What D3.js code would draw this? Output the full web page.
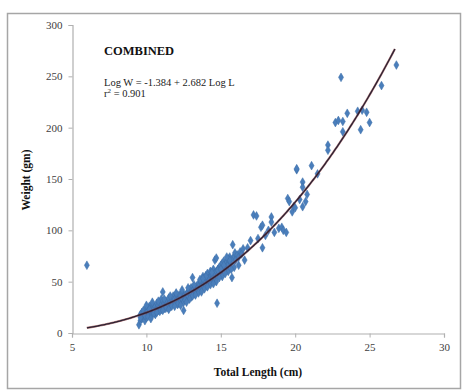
<!DOCTYPE html>
<html><head><meta charset="utf-8">
<script src="https://cdn.jsdelivr.net/npm/d3@7"></script>
<style>body{margin:0;background:#fff}svg{display:block}</style>
</head><body>
<script>
const xTicks = [5, 10, 15, 20, 25, 30];
const yTicks = [0, 50, 100, 150, 200, 250, 300];
const xLabel = "Total Length (cm)";
const yLabel = "Weight (gm)";
const title = "COMBINED";
const eqText = "Log W = -1.384 + 2.682 Log L";
const fitA = -1.384, fitB = 2.682;
const fitRange = [6, 26.7];
const lengths = [9.5,9.6,9.6,9.7,9.7,9.8,9.8,9.9,9.9,10.0,10.0,10.0,10.1,10.1,10.2,10.2,10.3,10.3,10.4,10.4,10.5,10.5,
10.6,10.6,10.7,10.7,10.8,10.8,10.9,10.9,11.0,11.0,11.0,11.1,11.1,11.2,11.2,11.3,11.3,11.4,11.4,11.5,11.5,
11.6,11.6,11.7,11.7,11.8,11.8,11.9,11.9,12.0,12.0,12.0,12.1,12.1,12.2,12.2,12.3,12.3,12.4,12.4,12.5,12.5,12.5,
12.6,12.6,12.7,12.7,12.8,12.8,12.9,12.9,13.0,13.0,13.0,13.1,13.1,13.2,13.2,13.3,13.3,13.4,13.4,13.5,13.5,13.5,
13.6,13.6,13.7,13.7,13.8,13.8,13.8,13.9,13.9,14.0,14.0,14.0,14.1,14.1,14.2,14.2,14.3,14.3,14.4,14.4,14.5,14.5,
14.6,14.6,14.6,14.7,14.7,14.75,14.8,14.8,14.9,14.9,15.0,15.0,15.1,15.1,15.2,15.2,15.3,15.3,15.4,15.4,15.5,15.5,
15.6,15.6,15.7,15.75,15.8,15.8,15.9,15.95,16.0,16.1,16.2,16.3,16.4,16.6,16.8,17.0,17.2,17.4,17.5,17.7,17.8,17.8,18.0,18.2,18.4,18.4,18.6,18.9,19.1,19.2,19.4,
19.5,19.6,19.8,19.9,20.0,20.1,20.1,20.3,20.5,20.5,20.5,20.7,20.8,21.1,21.5,22.2,22.2,22.7,22.9,23.08,23.2,23.2,23.5,24.2,24.5,24.4,24.8,25.0,25.8,26.8,6.0,
10.0,10.2,9.9,10.4,10.8,11.2,11.6,12.0,12.4,12.8,13.2,13.6,14.0,14.4,14.8,15.2,15.6,13.0,12.2,11.4,14.2,15.0,10.6,13.8,
9.6,10.1,10.5,10.9,11.3,11.7,12.1,12.6,13.1,13.5,13.9,14.3,14.7,15.1,15.5,15.9,12.3,12.9,13.7,14.5,15.3,15.7,11.9,11.1,
10.3,10.7,11.5,12.7,13.3,14.1,14.9,16.2,16.5,15.4];
const weights = [8,12,18,14,20,16,22,12,18,20,25,15,18,22,26,19,21,16,24,28,20,23,
26,18,24,29,22,27,25,30,23,28,33,26,40,24,29,27,31,25,30,28,34,
30,26,32,28,31,36,29,33,30,35,38,32,28,34,37,31,36,33,40,22,35,30,
37,33,38,35,40,36,42,38,39,44,35,41,54,43,38,44,40,46,42,45,41,48,
47,43,49,45,50,46,55,48,52,50,46,56,51,58,53,49,55,60,52,57,54,62,
58,71,52,60,73,29,62,57,64,60,59,66,62,68,64,70,63,67,69,65,72,66,
70,74,68,54,86,72,75,78,71,76,74,79,77,71,83,90,115,114,92,103,105,83,95,100,113,108,98,102,103,100,98,
131,128,118,123,122,159,160,130,147,142,123,128,135,163,155,183,178,205,207,249,206,196,214,216,217,198,215,205,241,261,66,
27,23,17,30,31,33,36,39,42,44,47,52,55,59,61,66,71,37,29,26,51,62,21,53,
15,16,19,21,24,26,28,32,36,39,43,47,50,55,60,64,27,33,40,48,58,62,26,22,
14,20,23,30,37,45,54,66,82,74];

const W = 462, H = 391;
const svg = d3.select("body").append("svg").attr("width", W).attr("height", H);
svg.append("rect").attr("x", 7.5).attr("y", 13.5).attr("width", 453).attr("height", 375)
  .attr("fill", "#fff").attr("stroke", "#a6a6a6").attr("stroke-width", 1.5);

const x = d3.scaleLinear().domain([5, 30]).range([72, 444]);
const y = d3.scaleLinear().domain([0, 300]).range([333, 25]);

const font = "'Liberation Serif', 'Times New Roman', serif";
const gx = svg.append("g").attr("transform", "translate(0,333.5)")
  .call(d3.axisBottom(x).tickValues(xTicks).tickSize(4).tickPadding(6).tickFormat(d3.format("d")));
const gy = svg.append("g").attr("transform", "translate(72.5,0)")
  .call(d3.axisLeft(y).tickValues(yTicks).tickSize(4).tickPadding(6).tickFormat(d3.format("d")));
[gx, gy].forEach(g => {
  g.select(".domain").attr("stroke", "#b0b0b0").attr("stroke-width", 1.2);
  g.selectAll(".tick line").attr("stroke", "#b0b0b0");
  g.selectAll(".tick text").attr("font-family", font).attr("font-size", 11).attr("fill", "#404040");
});

const sym = d3.symbol().type(d3.symbolDiamond).size(22);
svg.append("g").selectAll("path").data(lengths.map((l, i) => [l, weights[i]])).join("path")
  .attr("d", sym)
  .attr("transform", d => `translate(${x(d[0])},${y(d[1])})`)
  .attr("fill", "#4a7ebb").attr("stroke", "#3d6fa8").attr("stroke-width", 0.5);

const curveL = d3.range(fitRange[0], fitRange[1] + 0.001, 0.1);
const line = d3.line().x(d => x(d)).y(d => y(Math.pow(10, fitA) * Math.pow(d, fitB)));
svg.append("path").datum(curveL).attr("d", line).attr("fill", "none")
  .attr("stroke", "#8b2b2b").attr("stroke-width", 2.2).attr("opacity", 0.6);
svg.append("path").datum(curveL).attr("d", line).attr("fill", "none")
  .attr("stroke", "#2a2233").attr("stroke-width", 1.3);

svg.append("text").attr("x", 104).attr("y", 55).attr("font-family", font).attr("font-weight", "bold")
  .attr("font-size", 12.5).attr("fill", "#111").text(title);
svg.append("text").attr("x", 104).attr("y", 86).attr("font-family", font)
  .attr("font-size", 10.5).attr("fill", "#222").text(eqText);
const r2 = svg.append("text").attr("x", 104).attr("y", 97).attr("font-family", font)
  .attr("font-size", 10.5).attr("fill", "#222");
r2.append("tspan").text("r");
r2.append("tspan").attr("dy", -4).attr("font-size", 7).text("2");
r2.append("tspan").attr("dy", 4).text(" = 0.901");

svg.append("text").attr("x", 258).attr("y", 376).attr("text-anchor", "middle").attr("font-family", font)
  .attr("font-weight", "bold").attr("font-size", 11.5).attr("fill", "#111").text(xLabel);
svg.append("text").attr("transform", "translate(30,180) rotate(-90)").attr("text-anchor", "middle")
  .attr("font-family", font).attr("font-weight", "bold").attr("font-size", 11.5).attr("fill", "#111").text(yLabel);
</script>
</body></html>
